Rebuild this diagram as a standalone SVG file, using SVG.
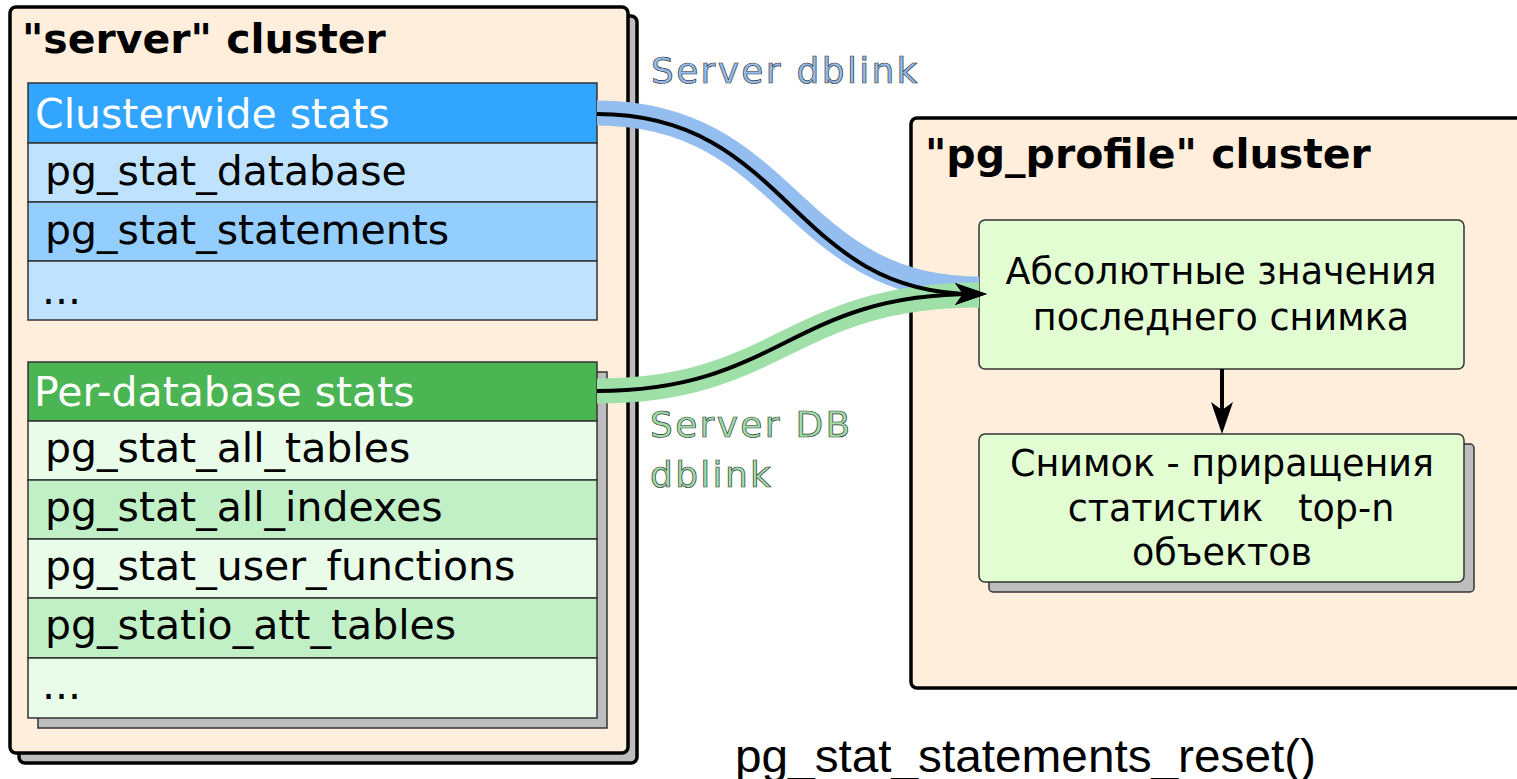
<svg xmlns="http://www.w3.org/2000/svg" width="1517" height="779" viewBox="0 0 1517 779">
<style>
.cl{fill:#ffeedb;stroke:#000;stroke-width:3.5}
.sh{fill:#bdbdbd;stroke:#333;stroke-width:1.5}
.csh{fill:#bdbdbd;stroke:#000;stroke-width:3.5}
.row{stroke:#333;stroke-width:1.5}
.t{font-family:"DejaVu Sans",sans-serif;font-size:41px;fill:#000}
.hw{fill:#fff}
.title{font-family:"DejaVu Sans",sans-serif;font-size:41px;font-weight:bold;fill:#000}
.node{fill:#e3fdd3;stroke:#333;stroke-width:1.5}
.nt{font-family:"DejaVu Sans",sans-serif;font-size:36.5px;fill:#000;text-anchor:middle}
.lbl{font-family:"DejaVu Sans",sans-serif;font-size:36px;letter-spacing:2.3px;stroke:#333;stroke-width:0.7}
.line{fill:none;stroke:#000;stroke-width:4}
</style>
<defs>
<marker id="ah" viewBox="0 0 32 22" refX="20" refY="11" markerWidth="32" markerHeight="22" markerUnits="userSpaceOnUse" orient="auto">
<path d="M0,0 L32,11 L0,22 L8,11 Z" fill="#000"/>
</marker>
</defs>
<rect width="1517" height="779" fill="#fff"/>

<g id="server-cluster">
<rect class="csh" x="19" y="16" width="618" height="747" rx="6"/>
<rect class="cl" x="10" y="7" width="618" height="746" rx="6"/>
<text class="title" x="22" y="53">"server" cluster</text>
</g>

<g id="clusterwide-stats">
<rect class="row" x="28" y="83" width="569" height="60" fill="#31a5ff"/>
<rect class="row" x="28" y="143" width="569" height="59" fill="#bfe3fe"/>
<rect class="row" x="28" y="202" width="569" height="59" fill="#93cefe"/>
<rect class="row" x="28" y="261" width="569" height="59" fill="#bfe3fe"/>
<text class="t hw" x="35" y="128">Clusterwide stats</text>
<text class="t" x="45" y="185">pg_stat_database</text>
<text class="t" x="45" y="244">pg_stat_statements</text>
<text class="t" x="42" y="304">...</text>
</g>

<g id="per-database-stats">
<rect class="sh" x="38" y="372" width="569" height="356"/>
<rect class="row" x="28" y="362" width="569" height="59" fill="#4bb453"/>
<rect class="row" x="28" y="421" width="569" height="59" fill="#e8fce9"/>
<rect class="row" x="28" y="480" width="569" height="59" fill="#c2f0c6"/>
<rect class="row" x="28" y="539" width="569" height="59" fill="#e8fce9"/>
<rect class="row" x="28" y="598" width="569" height="60" fill="#c2f0c6"/>
<rect class="row" x="28" y="658" width="569" height="60" fill="#e8fce9"/>
<text class="t hw" x="34" y="406">Per-database stats</text>
<text class="t" x="45" y="462">pg_stat_all_tables</text>
<text class="t" x="45" y="521">pg_stat_all_indexes</text>
<text class="t" x="45" y="580">pg_stat_user_functions</text>
<text class="t" x="45" y="639">pg_statio_att_tables</text>
<text class="t" x="42" y="699">...</text>
</g>

<g id="pg-profile-cluster">
<rect class="cl" x="911" y="118" width="640" height="570" rx="6"/>
<text class="title" x="925" y="168">"pg_profile" cluster</text>
</g>

<g id="absolute-values">
<rect class="node" x="979" y="220" width="485" height="149" rx="6"/>
<text class="nt" x="1221" y="284">Абсолютные значения</text>
<text class="nt" x="1221" y="330">последнего снимка</text>
</g>

<g id="snapshot">
<rect class="sh" x="989" y="444" width="485" height="148" rx="4"/>
<rect class="node" x="979" y="434" width="485" height="148" rx="6"/>
<text class="nt" x="1222" y="476">Снимок - приращения</text>
<text class="nt" x="1231" y="521" xml:space="preserve">статистик   top-n</text>
<text class="nt" x="1222" y="565">объектов</text>
</g>

<g id="connectors">
<path d="M597,113 C790,113 790,289 979,289" fill="none" stroke="#95bef0" stroke-width="25"/>
<path d="M597,391 C780,391 790,295 979,295" fill="none" stroke="#9fe0a9" stroke-width="25"/>
<path class="line" d="M597,114 C790,114 790,294 975,294" marker-end="url(#ah)"/>
<path class="line" d="M597,391 C780,391 790,294 975,294" marker-end="url(#ah)"/>
<path class="line" d="M1222,369 L1222,422" marker-end="url(#ah)"/>
</g>

<g id="labels">
<text class="lbl" x="651" y="83" fill="#95bef0">Server dblink</text>
<text class="lbl" x="650" y="437" fill="#9fe0a9">Server DB</text>
<text class="lbl" x="650" y="487" fill="#9fe0a9">dblink</text>
<text x="735" y="772" font-family="'Liberation Sans',Arial,sans-serif" font-size="47" fill="#000" textLength="581" lengthAdjust="spacingAndGlyphs">pg_stat_statements_reset()</text>
</g>
</svg>
